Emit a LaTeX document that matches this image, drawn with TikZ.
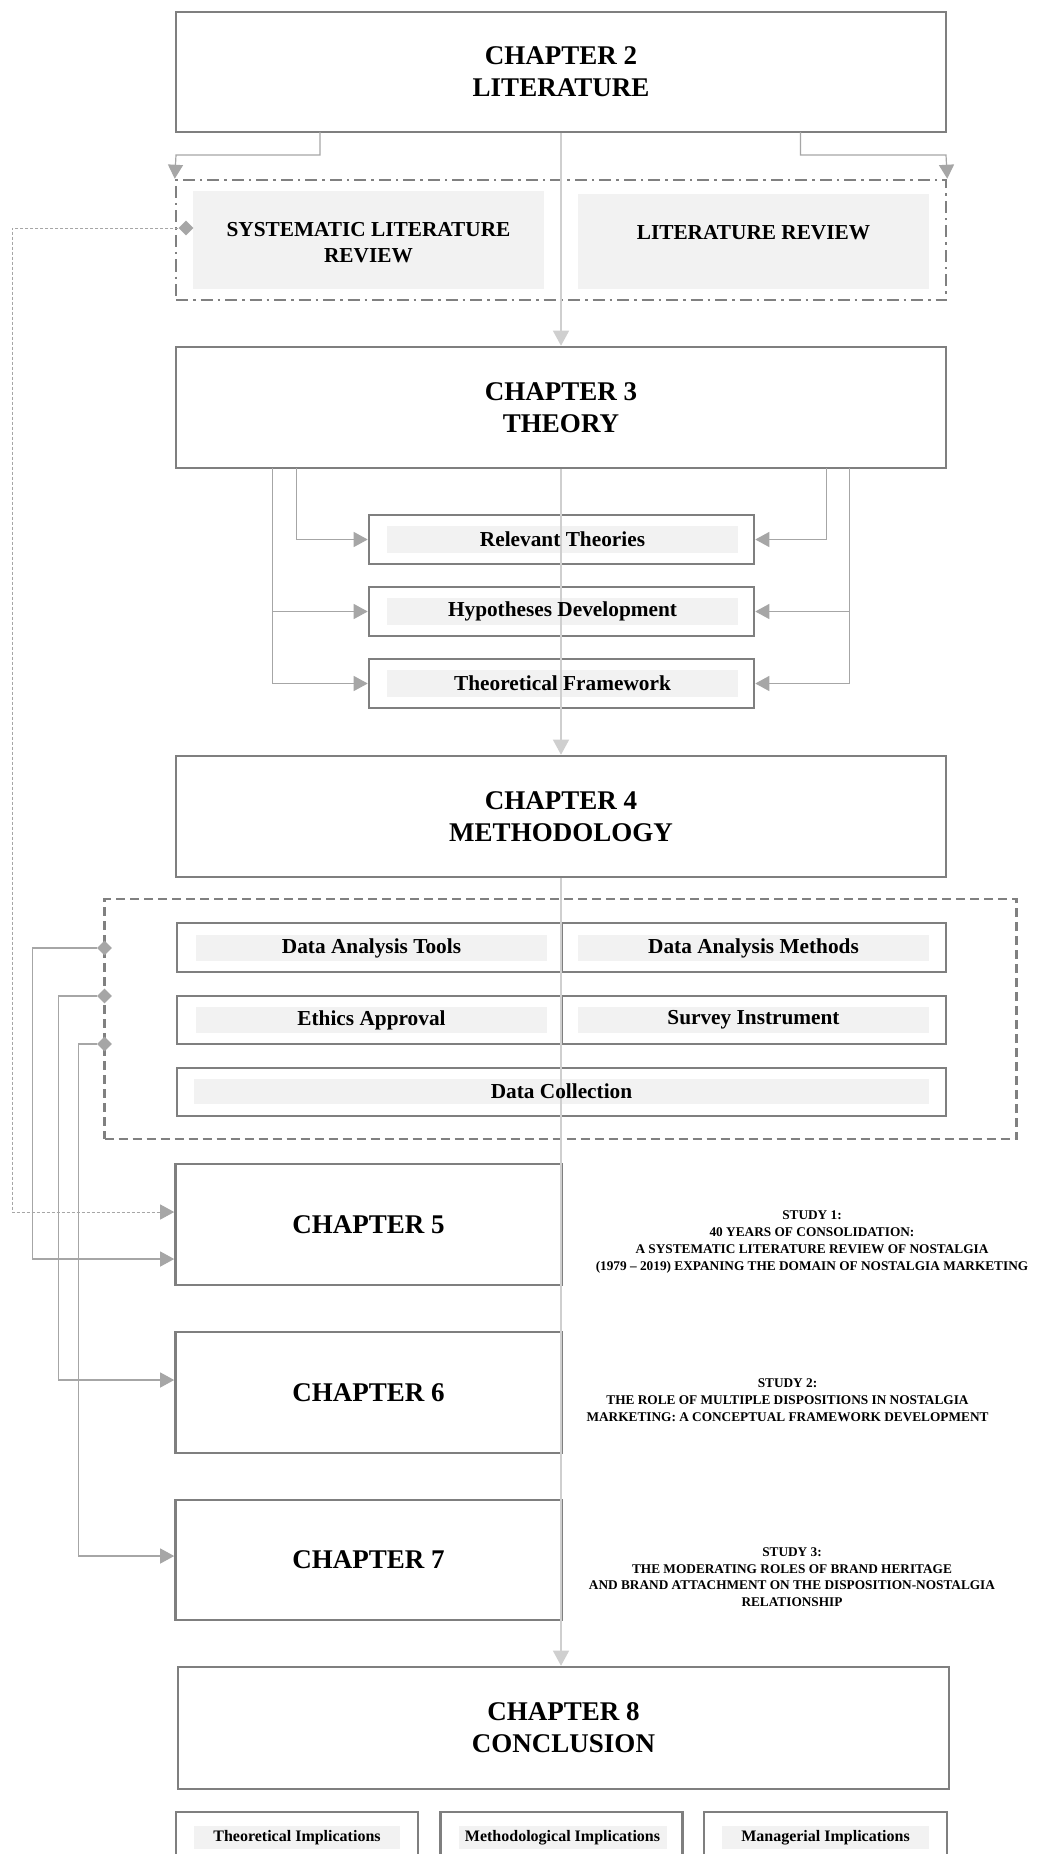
\documentclass[tikz,border=0pt]{standalone}
\usepackage{fontspec}
\setmainfont{Liberation Serif}
\usetikzlibrary{arrows.meta,shapes.geometric}
\definecolor{framegray}{HTML}{7F7F7F}
\definecolor{linkgray}{HTML}{A6A6A6}
\definecolor{spinegray}{HTML}{CFCFCF}
\definecolor{panelgray}{HTML}{F2F2F2}
\definecolor{groupgray}{HTML}{808080}

\begin{document}
\begin{tikzpicture}[x=1pt,y=-1pt,
  frame/.style={draw=framegray,line width=2.6pt,rectangle,inner sep=0pt},
  panel/.style={fill=panelgray,rectangle,inner sep=0pt},
  chaptext/.style={font=\fontsize{27}{32}\selectfont\bfseries,align=center,inner sep=0pt},
  itemtext/.style={font=\fontsize{21.3}{26}\selectfont\bfseries,align=center,inner sep=0pt},
  studytext/.style={font=\fontsize{13.3}{16.7}\selectfont\bfseries,align=center,inner sep=0pt},
  impltext/.style={font=\fontsize{16}{19}\selectfont\bfseries,inner sep=0pt},
  link/.style={draw=linkgray,line width=1.2pt,-{Triangle[length=14pt,width=15pt]}},
  dottedlink/.style={draw=linkgray,line width=1pt,dash pattern=on 3pt off 2pt,-{Triangle[length=14pt,width=15pt]}},
  spine/.style={draw=spinegray,line width=1.2pt,-{Triangle[length=15pt,width=16pt]}},
  tap/.style={diamond,fill=linkgray,minimum size=15pt,inner sep=0pt},
  dashdotgroup/.style={draw=groupgray,line width=2.5pt,dash pattern=on 12pt off 5pt on 2.5pt off 5pt},
  dashgroup/.style={draw=groupgray,line width=2.2pt,dash pattern=on 9pt off 5pt,rectangle,inner sep=0pt}
]
\path[use as bounding box,clip] (0,0) rectangle (1038,1854);
\fill[white] (0,0) rectangle (1038,1854);

% ---------- grey panels (behind everything) ----------
\node[panel,minimum width=351pt,minimum height=98pt] (slrp) at (368.5,240) {};
\node[panel,minimum width=351pt,minimum height=95pt] (lrp) at (753.5,241.5) {};
\node[panel,minimum width=351pt,minimum height=27pt] (rtp) at (562.5,539.5) {};
\node[panel,minimum width=351pt,minimum height=27pt] (hypp) at (562.5,611.5) {};
\node[panel,minimum width=351pt,minimum height=27pt] (tfp) at (562.5,683.5) {};
\node[panel,minimum width=351pt,minimum height=26pt] (datp) at (371.5,948) {};
\node[panel,minimum width=351pt,minimum height=26pt] (damp) at (753.5,948) {};
\node[panel,minimum width=351pt,minimum height=26pt] (eap) at (371.5,1020) {};
\node[panel,minimum width=351pt,minimum height=26pt] (sip) at (753.5,1020) {};
\node[panel,minimum width=735pt,minimum height=25pt] (dcp) at (561.5,1091.5) {};
\node[panel,minimum width=206pt,minimum height=23pt] (tip) at (297,1837.5) {};
\node[panel,minimum width=208pt,minimum height=23pt] (mip) at (562.5,1837.5) {};
\node[panel,minimum width=207pt,minimum height=23pt] (gip) at (825.5,1837.5) {};

% ---------- frames ----------
\node[frame,minimum width=770pt,minimum height=120pt] (c2) at (561,72) {};
\node[frame,minimum width=770pt,minimum height=121pt] (c3) at (561,407.5) {};
\node[frame,minimum width=385pt,minimum height=49pt] (rt) at (561.5,539.5) {};
\node[frame,minimum width=385pt,minimum height=49pt] (hyp) at (561.5,611.5) {};
\node[frame,minimum width=385pt,minimum height=49pt] (tf) at (561.5,683.5) {};
\node[frame,minimum width=770pt,minimum height=121pt] (c4) at (561,816.5) {};
\node[frame,minimum width=384pt,minimum height=49pt] (dat) at (369,947.5) {};
\node[frame,minimum width=384pt,minimum height=49pt] (dam) at (754,947.5) {};
\node[frame,minimum width=384pt,minimum height=48pt] (ea) at (369,1020) {};
\node[frame,minimum width=384pt,minimum height=48pt] (si) at (754,1020) {};
\node[frame,minimum width=769pt,minimum height=48pt] (dc) at (561.5,1092) {};
\node[frame,fill=white,minimum width=386pt,minimum height=121pt] (c5) at (368.5,1224.5) {};
\node[frame,fill=white,minimum width=386pt,minimum height=121pt] (c6) at (368.5,1392.5) {};
\node[frame,fill=white,minimum width=386pt,minimum height=120pt] (c7) at (368.5,1560) {};
\node[frame,minimum width=771pt,minimum height=122pt] (c8) at (563.5,1728) {};
\node[frame,minimum width=242pt,minimum height=88pt] (ti) at (297,1856) {};
\node[frame,minimum width=242pt,minimum height=88pt] (mi) at (561.5,1856) {};
\node[frame,minimum width=243pt,minimum height=88pt] (gi) at (825.5,1856) {};

% ---------- groups ----------
\node[dashdotgroup,rectangle,inner sep=0pt,minimum width=770pt,minimum height=120pt] (litgroup) at (561,240) {};
\draw[dashdotgroup] (litgroup.north) -- (litgroup.south);
\node[dashgroup,minimum width=912pt,minimum height=240pt] (methgroup) at (560.5,1019) {};

% ---------- main spine ----------
\draw[spine] (c2.south) -- (c3.north);
\draw[spine] (c3.south) -- (c4.north);
\draw[spine] (c4.south) -- (c4.south |- c8.north);

% ---------- chapter 2 branches ----------
\coordinate (k1a) at (320,132);
\coordinate (k1b) at (176,155);
\coordinate (k2a) at (800.5,132);
\coordinate (k2b) at (946,155);
\draw[link] (k1a) |- (k1b) -- (litgroup.north west);
\draw[link] (k2a) |- (k2b) -- (litgroup.north east);

% ---------- chapter 3 branches ----------
\coordinate (t1) at (296.5,468);
\coordinate (t2) at (272.5,468);
\coordinate (t3) at (826.5,468);
\coordinate (t4) at (849.5,468);
\draw[link] (t1) |- (rt.west);
\draw[link] (t2) |- (hyp.west);
\draw[link] (t2) |- (tf.west);
\draw[link] (t3) |- (rt.east);
\draw[link] (t4) |- (hyp.east);
\draw[link] (t4) |- (tf.east);

% ---------- feeds into the study chapters ----------
\node[tap] (d0) at (186,228) {};
\node[tap] (d1) at (104.5,948) {};
\node[tap] (d2) at (104.5,996) {};
\node[tap] (d3) at (104.5,1044) {};
\coordinate (b0) at (12,1212);
\coordinate (b1) at (32.5,1259);
\coordinate (b2) at (58.5,1380);
\coordinate (b3) at (78.5,1556);
\draw[dottedlink] (d0.west) -| (b0) -- (b0 -| c5.west);
\draw[link] (d1.west) -| (b1) -- (b1 -| c5.west);
\draw[link] (d2.west) -| (b2) -- (b2 -| c6.west);
\draw[link] (d3.west) -| (b3) -- (b3 -| c7.west);

% ---------- texts ----------
\node[chaptext] (c2t) at (c2) {CHAPTER 2\\LITERATURE};
\node[chaptext] (c3t) at (c3) {CHAPTER 3\\THEORY};
\node[chaptext] (c4t) at (c4) {CHAPTER 4\\METHODOLOGY};
\node[chaptext] (c5t) at (c5) {CHAPTER 5};
\node[chaptext] (c6t) at (c6) {CHAPTER 6};
\node[chaptext] (c7t) at (c7) {CHAPTER 7};
\node[chaptext] (c8t) at (c8) {CHAPTER 8\\CONCLUSION};

\node[itemtext] (slrt) at (368.5,243) {SYSTEMATIC LITERATURE\\REVIEW};
\node[itemtext] (lrt) at (753.5,233) {LITERATURE REVIEW};
\node[itemtext] (rtt) at (rtp) {Relevant Theories};
\node[itemtext] (hypt) at (hypp) {Hypotheses Development};
\node[itemtext] (tft) at (tfp) {Theoretical Framework};
\node[itemtext] (datt) at (datp) {Data Analysis Tools};
\node[itemtext] (damt) at (damp) {Data Analysis Methods};
\node[itemtext] (eat) at (eap) {Ethics Approval};
\node[itemtext] (sit) at (sip) {Survey Instrument};
\node[itemtext] (dct) at (dcp) {Data Collection};

\node[studytext] (s1) at (812,1242) {STUDY 1:\\40 YEARS OF CONSOLIDATION:\\A SYSTEMATIC LITERATURE REVIEW OF NOSTALGIA\\(1979 – 2019) EXPANING THE DOMAIN OF NOSTALGIA MARKETING};
\node[studytext] (s2) at (787.5,1400) {STUDY 2:\\THE ROLE OF MULTIPLE DISPOSITIONS IN NOSTALGIA\\MARKETING: A CONCEPTUAL FRAMEWORK DEVELOPMENT};
\node[studytext] (s3) at (792,1577) {STUDY 3:\\THE MODERATING ROLES OF BRAND HERITAGE\\AND BRAND ATTACHMENT ON THE DISPOSITION-NOSTALGIA\\RELATIONSHIP};

\node[impltext] (tit) at (tip) {Theoretical Implications};
\node[impltext] (mit) at (mip) {Methodological Implications};
\node[impltext] (git) at (gip) {Managerial Implications};
\end{tikzpicture}
\end{document}
